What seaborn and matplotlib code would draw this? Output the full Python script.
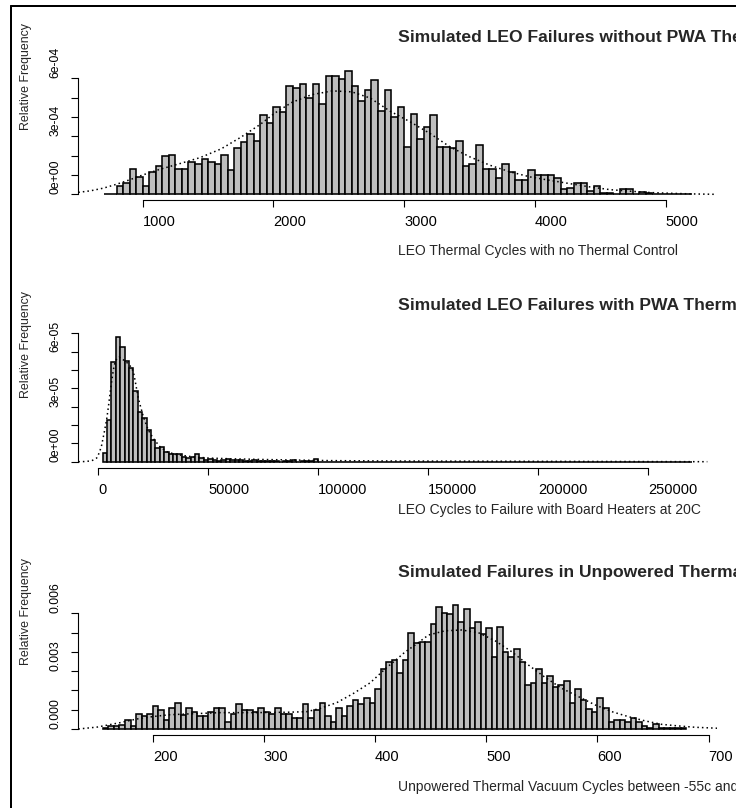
import numpy as np
import pandas as pd
import matplotlib
matplotlib.use("Agg")
import matplotlib.pyplot as plt
import seaborn as sns
from matplotlib.lines import Line2D

# ---------------- data ----------------
# Panel 1: LEO thermal cycles, no thermal control (bin width 50, first edge 700)
p1_titles = "Simulated LEO Failures without PWA Thermal Control"
p1_xlabel = "LEO Thermal Cycles with no Thermal Control"
p1_bin_first, p1_bin_width = 700, 50
p1_density_e4 = [
    0.03, 0.03, 0.43, 0.59, 1.33, 0.88, 0.45, 1.16, 1.47, 2.00,
    2.05, 1.33, 1.33, 1.67, 1.59, 1.84, 1.67, 1.57, 2.05, 1.28,
    2.40, 2.69, 3.10, 2.76, 4.12, 3.71, 4.52, 4.28, 5.59, 5.52,
    5.69, 5.00, 5.69, 4.69, 6.10, 6.10, 5.98, 6.40, 5.59, 4.83,
    5.41, 5.93, 4.29, 5.41, 4.00, 4.52, 2.47, 4.17, 2.86, 3.47,
    4.10, 2.47, 2.47, 2.40, 2.76, 1.48, 1.59, 2.57, 1.33, 1.33,
    0.86, 1.59, 1.17, 0.76, 0.76, 1.28, 1.02, 1.02, 1.02, 0.86,
    0.29, 0.34, 0.60, 0.60, 0.19, 0.45, 0.07, 0.07, 0.03, 0.29,
    0.29, 0.03, 0.10, 0.07, 0.03, 0.02, 0.02, 0.03, 0.00, 0.03]
p1_curve_x = [507, 600, 700, 800, 900, 1000, 1130, 1290, 1440, 1600, 1750, 1900,
              2010, 2140, 2290, 2450, 2600, 2740, 2893, 3046, 3199, 3352, 3505,
              3658, 3811, 3964, 4117, 4270, 4423, 4576, 4730, 4883, 5050, 5200, 5371]
p1_curve_e4 = [0.10, 0.18, 0.32, 0.52, 0.75, 1.00, 1.29, 1.60, 1.90, 2.35, 2.95, 3.62,
               4.20, 4.75, 5.15, 5.35, 5.30, 4.98, 4.30, 3.75, 3.14, 2.45, 1.93,
               1.50, 1.16, 0.90, 0.72, 0.55, 0.38, 0.24, 0.16, 0.09, 0.05, 0.02, 0.00]
p1_xticks = [1000, 2000, 3000, 4000, 5000]
p1_yticks_e4 = [0, 1, 2, 3, 4, 5, 6]
p1_ytick_labels = ["0e+00", "", "", "3e-04", "", "", "6e-04"]

# Panel 2: LEO cycles with board heaters (bin width 2000, first edge 2000)
p2_titles = "Simulated LEO Failures with PWA Thermal Control"
p2_xlabel = "LEO Cycles to Failure with Board Heaters at 20C"
p2_bin_first, p2_bin_width = 2000, 2000
p2_density_e5 = [
    0.45, 2.27, 5.42, 6.78, 6.27, 5.49, 5.09, 3.85, 2.73, 2.36,
    1.73, 1.18, 0.73, 0.78, 0.51, 0.40, 0.40, 0.40, 0.27, 0.22,
    0.25, 0.40, 0.20, 0.12, 0.16, 0.10, 0.06, 0.12, 0.14, 0.08,
    0.10, 0.08, 0.05, 0.03, 0.08, 0.06, 0.04, 0.04, 0.02, 0.02,
    0.00, 0.03, 0.04, 0.07, 0.00, 0.02, 0.02, 0.04, 0.13, 0.00,
    0, 0, 0, 0, 0, 0, 0, 0, 0, 0, 0, 0, 0, 0, 0, 0, 0, 0, 0, 0, 0,
    0, 0, 0, 0, 0, 0, 0, 0, 0, 0, 0, 0, 0, 0, 0, 0, 0, 0, 0, 0, 0,
    0, 0, 0, 0, 0, 0, 0, 0, 0, 0, 0, 0, 0, 0, 0, 0, 0, 0, 0, 0, 0,
    0, 0, 0, 0, 0, 0, 0, 0, 0, 0, 0, 0, 0, 0, 0, 0, 0, 0, 0, 0, 0]
p2_curve_x = [-9096, -6000, -3000, -740, 500, 1530, 2700, 3800, 4600, 5320, 6100,
              6840, 7600, 8500, 9500, 10800, 12100, 13500, 15000, 15930, 16700,
              18200, 20500, 22700, 25000, 28000, 31100, 35000, 42000, 50000, 60000,
              75000, 90000, 105000, 130000, 160000, 200000, 240000, 277000]
p2_curve_e5 = [0.0, 0.01, 0.05, 0.20, 0.50, 0.90, 1.60, 2.30, 3.00, 3.70, 4.40,
               5.00, 5.40, 5.65, 5.70, 5.60, 5.50, 5.35, 5.15, 4.90, 4.45,
               3.45, 2.45, 1.73, 1.27, 0.82, 0.55, 0.40, 0.28, 0.20, 0.16,
               0.12, 0.09, 0.06, 0.04, 0.03, 0.02, 0.01, 0.00]
p2_xticks = [0, 50000, 100000, 150000, 200000, 250000]
p2_yticks_e5 = [0, 1, 2, 3, 4, 5, 6, 7]
p2_ytick_labels = ["0e+00", "", "", "3e-05", "", "", "6e-05", ""]

# Panel 3: unpowered thermal vacuum cycles (bin width 5, first edge 155)
p3_titles = "Simulated Failures in Unpowered Thermal Vacuum"
p3_xlabel = "Unpowered Thermal Vacuum Cycles between -55c and 125c"
p3_bin_first, p3_bin_width = 155, 5
p3_density_e3 = [
    0.03, 0.17, 0.17, 0.19, 0.45, 0.17, 0.76, 0.69, 0.76,
    1.18, 1.00, 0.47, 1.07, 1.35, 0.71, 1.07, 0.87, 0.69, 0.69,
    0.87, 1.07, 1.07, 0.35, 0.76, 1.28, 1.00, 1.00, 0.87, 1.07,
    0.87, 0.76, 1.07, 0.76, 0.76, 0.59, 0.59, 1.28, 0.59, 1.00,
    1.35, 0.69, 0.35, 1.07, 0.69, 1.18, 1.49, 1.28, 1.59, 1.35,
    2.06, 3.11, 3.48, 3.60, 2.89, 3.60, 5.00, 4.45, 4.53, 4.53,
    5.43, 6.32, 6.00, 5.95, 6.42, 5.54, 6.25, 5.22, 5.54, 4.91,
    5.24, 3.72, 5.31, 4.01, 3.72, 4.17, 3.48, 2.30, 2.40, 3.13,
    2.40, 2.77, 2.16, 2.27, 2.47, 1.35, 2.06, 1.49, 1.02, 0.87,
    1.59, 1.07, 0.35, 0.45, 0.45, 0.35, 0.59, 0.35, 0.17, 0.07,
    0.28, 0.07, 0.03, 0.07, 0.03, 0.03]
p3_curve_x = [133, 150, 170.6, 185.6, 200.6, 215, 230.6, 260.6, 290.6, 320.6, 338.6,
              350.6, 365.6, 380.6, 395.6, 410.6, 418, 427, 436, 448, 463, 478, 493,
              508, 523, 538, 553, 568, 583, 598, 613, 628, 643, 658, 673, 688, 708]
p3_curve_e3 = [0.0, 0.10, 0.33, 0.52, 0.65, 0.74, 0.78, 0.85, 0.85, 0.87, 0.90,
               1.07, 1.37, 1.85, 2.40, 3.20, 3.55, 4.00, 4.36, 4.88, 5.10, 5.14, 5.00,
               4.58, 4.01, 3.32, 2.68, 2.11, 1.68, 1.25, 0.90, 0.64, 0.42, 0.24, 0.16, 0.09, 0.04]
p3_xticks = [200, 300, 400, 500, 600, 700]
p3_yticks_e3 = [0, 1, 2, 3, 4, 5, 6]
p3_ytick_labels = ["0.000", "", "", "0.003", "", "", "0.006"]

ylabel_text = "Relative Frequency"

# ---------------- style ----------------
sns.set_theme(style="white")
plt.rcParams["font.family"] = ["Liberation Sans", "DejaVu Sans"]

W, H = 736, 808
fig = plt.figure(figsize=(W / 100, H / 100), dpi=100)
PX = 72 / 100  # points per pixel

BAR_FACE = "#BEBEBE"


def make_panel(heights, scale, bin_first, bin_width, cx, cy, xticks, yticks, ylabels,
               title, xlabel, layout):
    (left, right, top, bottom, xlim, ylim, title_y, xlab_y, ylab_start) = layout
    ax = fig.add_axes([left / W, 1 - bottom / H, (right - left) / W, (bottom - top) / H])
    n = len(heights)
    edges = [float(bin_first + bin_width * i) for i in range(n + 1)]
    df = pd.DataFrame({"mid": [e + bin_width / 2 for e in edges[:-1]],
                       "dens": np.asarray(heights, dtype=float) * scale})
    sns.histplot(data=df, x="mid", weights="dens", bins=edges, stat="count",
                 color=BAR_FACE, edgecolor="black", linewidth=1.15, alpha=1.0, ax=ax)
    cdf = pd.DataFrame({"x": cx, "y": np.asarray(cy, dtype=float) * scale})
    sns.lineplot(data=cdf, x="x", y="y", ax=ax, color="black", linewidth=1.1,
                 linestyle=(0, (1, 2.0)), sort=False, estimator=None)
    ax.set_xlim(*xlim)
    ax.set_ylim(ylim[0] * scale, ylim[1] * scale)
    for s in ("top", "right"):
        ax.spines[s].set_visible(False)
    for s in ("left", "bottom"):
        ax.spines[s].set_color("black")
        ax.spines[s].set_linewidth(0.8)
    ax.spines["bottom"].set_bounds(xticks[0], xticks[-1])
    ax.spines["left"].set_bounds(yticks[0] * scale, yticks[-1] * scale)
    ax.tick_params(axis="x", length=7 * PX, width=0.8, color="black", pad=15 * PX,
                   labelsize=10.5, labelcolor="black", bottom=True)
    ax.tick_params(axis="y", length=7 * PX, width=0.8, color="black", pad=15.5 * PX,
                   labelsize=8.8, labelcolor="black", left=True)
    ax.set_xticks(xticks, [str(t) for t in xticks], ha="left", va="center")
    ax.set_yticks([t * scale for t in yticks], ylabels, rotation=90,
                  rotation_mode="anchor", ha="left", va="center")
    ax.grid(False)
    h = bottom - top
    wdt = right - left
    ax.set_title(title, fontsize=12.6, fontweight="bold", ha="left", va="center",
                 y=(bottom - title_y) / h, pad=0)
    ax.title.set_x(0.5)
    ax.set_xlabel(xlabel, fontsize=10, ha="left", va="center")
    ax.xaxis.set_label_coords(0.5, (bottom - xlab_y) / h)
    ax.set_ylabel(ylabel_text, fontsize=8.9, rotation=90, rotation_mode="anchor",
                  ha="left", va="center")
    ax.yaxis.set_label_coords((26 - left) / wdt, (bottom - ylab_start) / h)
    return ax


# layout (pixels): left, right, top, bottom, xlim, ylim (scaled units), title y, xlabel y, ylabel start
make_panel(p1_density_e4, 1e-4, p1_bin_first, p1_bin_width, p1_curve_x, p1_curve_e4,
           p1_xticks, p1_yticks_e4, p1_ytick_labels, p1_titles, p1_xlabel,
           (78.3, 717, 38, 200, (507, 5394), (-0.295, 8.086), 37.5, 250.8, 130))
make_panel(p2_density_e5, 1e-5, p2_bin_first, p2_bin_width, p2_curve_x, p2_curve_e5,
           p2_xticks, p2_yticks_e5, p2_ytick_labels, p2_titles, p2_xlabel,
           (78.3, 717, 306, 467.7, (-9096, 281400), (-0.327, 8.49), 306, 510, 398))
make_panel(p3_density_e3, 1e-3, p3_bin_first, p3_bin_width, p3_curve_x, p3_curve_e3,
           p3_xticks, p3_yticks_e3, p3_ytick_labels, p3_titles, p3_xlabel,
           (78.3, 717, 573, 735, (133.0, 707.6), (-0.311, 8.10), 573, 787, 665))

# outer frame (top and left edges visible in the crop)
fig.add_artist(Line2D([11 / W, 11 / W], [1 - 6 / H, 0], transform=fig.transFigure,
                      color="black", linewidth=2 * PX))
fig.add_artist(Line2D([11 / W, 1], [1 - 6 / H, 1 - 6 / H], transform=fig.transFigure,
                      color="black", linewidth=2 * PX))

fig.savefig("out.png", dpi=100)
